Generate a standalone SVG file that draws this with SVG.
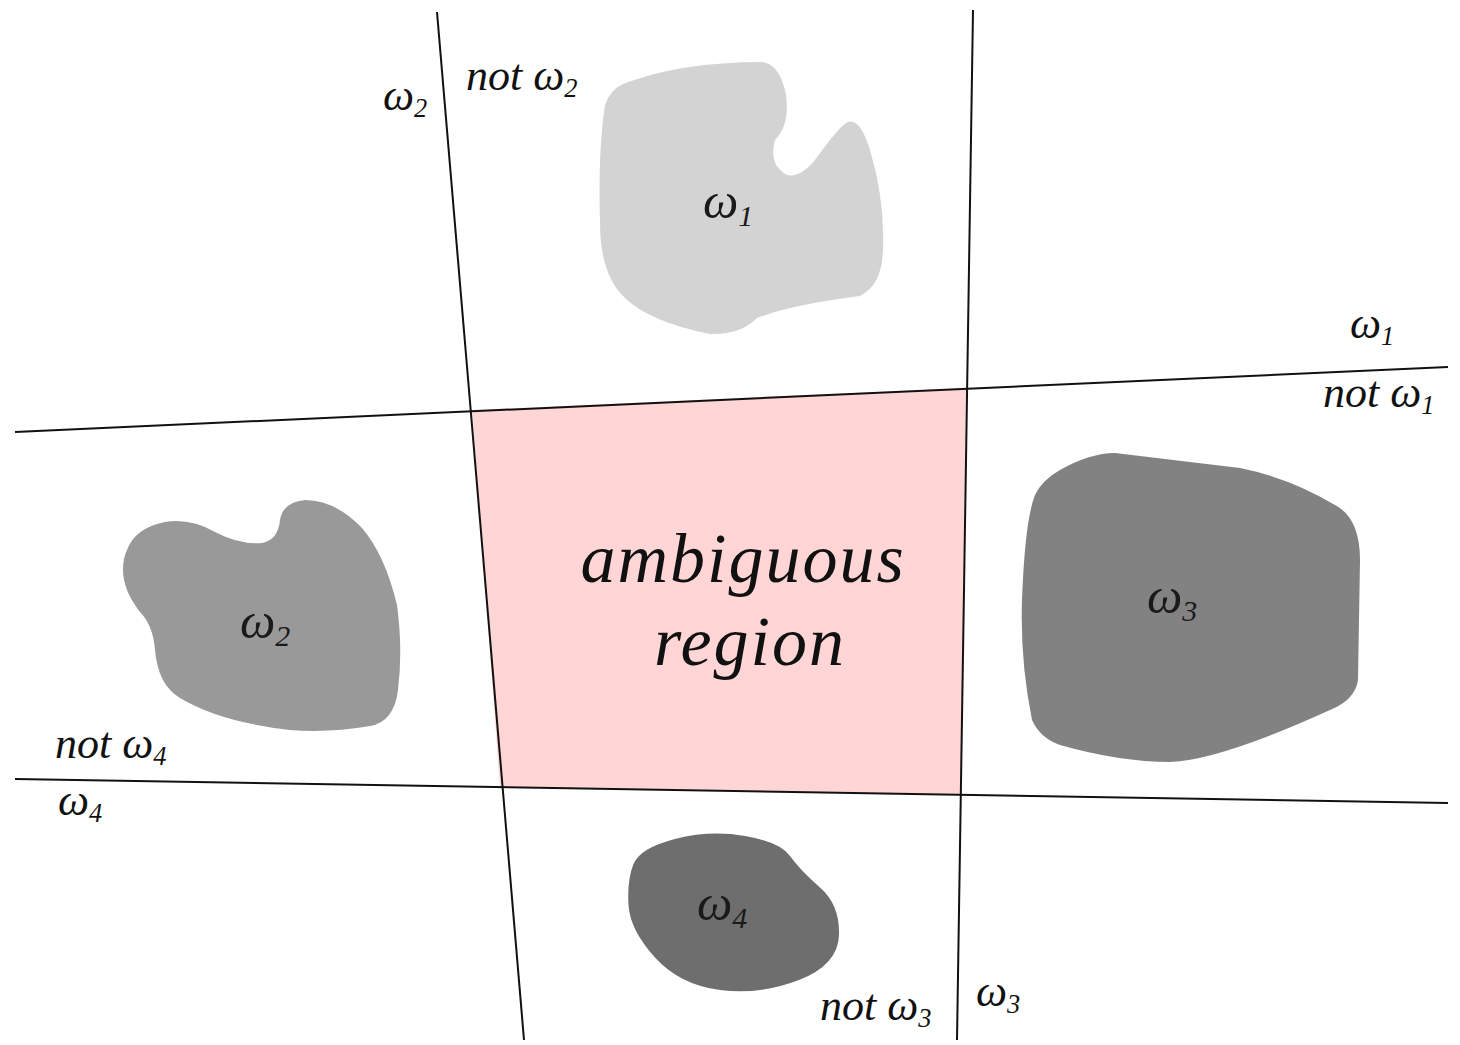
<svg xmlns="http://www.w3.org/2000/svg" width="1460" height="1045" viewBox="0 0 1460 1045">
<style>
.t{font-family:'Liberation Serif', 'DejaVu Serif', serif;font-style:italic;fill:#111}
.lbl{font-size:44px}
.big{font-size:70px;letter-spacing:2px}
.in{font-size:50px;fill:#1a1a1a}
.sub{font-size:0.6em}
.ln{stroke:#111;stroke-width:2;fill:none}
</style>
<rect width="1460" height="1045" fill="#ffffff"/>
<g id="ambiguous-region">
<polygon points="472,410 966,388 961,795 500,787" fill="#ffd5d5"/>
<text class="t big" x="743" y="582" text-anchor="middle">ambiguous</text>
<text class="t big" x="750" y="665" text-anchor="middle">region</text>
</g>
<g id="class-w1">
<path d="M623,84 Q680,62 762,62 Q780,64 786,95 Q790,125 775,140 Q768,165 787,175 Q800,178 815,160 Q840,125 848,122 Q860,118 870,150 Q885,200 883,250 Q882,285 860,296 Q790,305 757,318 Q740,335 710,334 Q650,322 625,298 Q600,275 600,222 Q598,150 605,105 Q610,90 623,84 Z" fill="#d3d3d3"/>
<text class="t in" x="703" y="218">ω<tspan class="sub" dy="8">1</tspan></text>
</g>
<g id="class-w2">
<path d="M127,550 Q135,528 165,522 Q190,518 215,532 Q240,545 262,543 Q278,540 280,520 Q283,502 305,500 Q335,500 362,528 Q385,555 397,605 Q403,650 398,690 Q394,722 370,726 Q330,733 290,730 Q220,722 180,698 Q158,685 155,650 Q153,625 140,612 Q123,590 123,570 Q123,558 127,550 Z" fill="#999999"/>
<text class="t in" x="240" y="638">ω<tspan class="sub" dy="8">2</tspan></text>
</g>
<g id="class-w3">
<path d="M1060,470 Q1090,453 1115,453 L1240,468 Q1290,478 1335,505 Q1360,518 1360,560 L1358,680 Q1355,700 1330,710 Q1220,760 1170,762 Q1120,762 1060,745 Q1040,738 1032,720 Q1020,660 1022,600 Q1025,520 1035,495 Q1042,480 1060,470 Z" fill="#828282"/>
<text class="t in" x="1147" y="613">ω<tspan class="sub" dy="8">3</tspan></text>
</g>
<g id="class-w4">
<path d="M675,839 Q710,830 745,836 Q780,842 790,856 Q800,870 820,887.5 Q840,905 839,935 Q838,965 799,980 Q760,995 720,990 Q680,985 655,957.5 Q630,930 628.5,905 Q627,880 633.5,864 Q640,848 675,839 Z" fill="#6e6e6e"/>
<text class="t in" x="697" y="920">ω<tspan class="sub" dy="8">4</tspan></text>
</g>
<g id="connectors">
<line class="ln" x1="437" y1="12" x2="524" y2="1040"/>
<line class="ln" x1="973" y1="10" x2="957" y2="1040"/>
<line class="ln" x1="15" y1="432" x2="1448" y2="367"/>
<line class="ln" x1="15" y1="779" x2="1448" y2="803"/>
</g>
<g id="boundary-labels">
<text class="t lbl" x="383" y="110">ω<tspan class="sub" dy="7">2</tspan></text>
<text class="t lbl" x="466" y="90">not ω<tspan class="sub" dy="7">2</tspan></text>
<text class="t lbl" x="1350" y="338">ω<tspan class="sub" dy="7">1</tspan></text>
<text class="t lbl" x="1323" y="407">not ω<tspan class="sub" dy="7">1</tspan></text>
<text class="t lbl" x="55" y="758">not ω<tspan class="sub" dy="7">4</tspan></text>
<text class="t lbl" x="58" y="815">ω<tspan class="sub" dy="7">4</tspan></text>
<text class="t lbl" x="820" y="1020">not ω<tspan class="sub" dy="7">3</tspan></text>
<text class="t lbl" x="976" y="1006">ω<tspan class="sub" dy="7">3</tspan></text>
</g>
</svg>
